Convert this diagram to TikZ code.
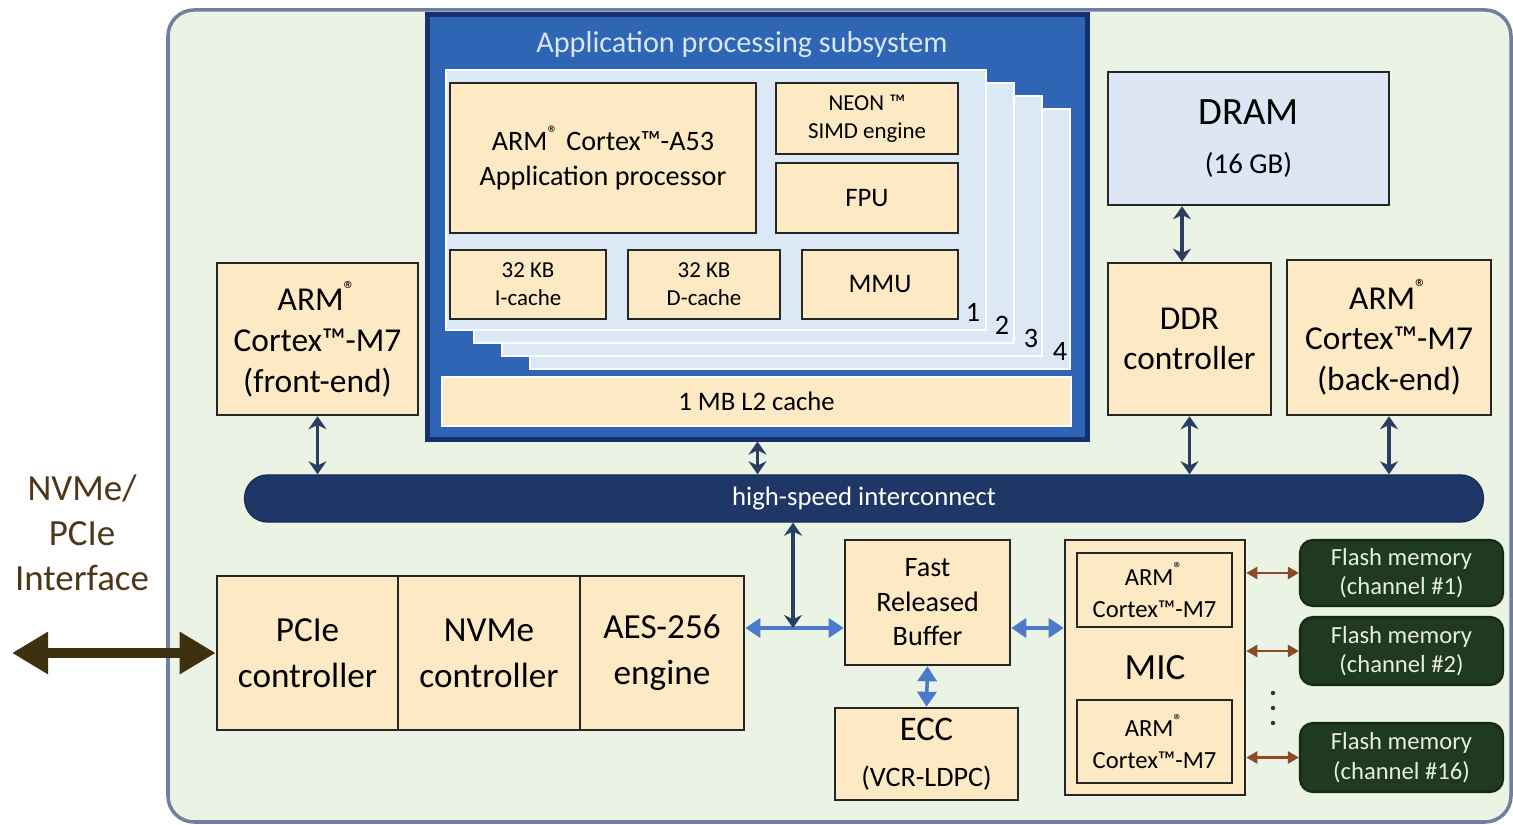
\documentclass[tikz,border=0pt]{standalone}
\usepackage{fontspec}
\setmainfont{Carlito}
\usetikzlibrary{arrows.meta}
\definecolor{panelgreen}{HTML}{EAF3E4}
\definecolor{panelline}{HTML}{6F7FA0}
\definecolor{apsblue}{HTML}{2F65B5}
\definecolor{apsline}{HTML}{183070}
\definecolor{apstext}{HTML}{D8E6F8}
\definecolor{cardblue}{HTML}{DDE8F7}
\definecolor{blocktan}{HTML}{FDE9C3}
\definecolor{dramblue}{HTML}{DCE6F5}
\definecolor{busnavy}{HTML}{1F3767}
\definecolor{linknavy}{HTML}{2A3D63}
\definecolor{linkblue}{HTML}{4A7AC9}
\definecolor{flashgreen}{HTML}{1F3A1E}
\definecolor{flashtext}{HTML}{E6EEE4}
\definecolor{linkbrown}{HTML}{8A4B25}
\definecolor{hostbrown}{HTML}{3E3110}
\definecolor{textbrown}{HTML}{4E3617}

\begin{document}
\begin{tikzpicture}[
		x=0.01cm, y=-0.01cm,
		blk/.style={draw=black!85, fill=blocktan, line width=0.7pt, inner sep=0pt, align=center},
		aps/.style={draw=apsline, fill=apsblue, line width=1.4pt, inner sep=0pt},
		card/.style={draw=white!90!cardblue, fill=cardblue, line width=0.8pt},
		flash/.style={draw=flashgreen!70!black, fill=flashgreen, rounded corners=1.3mm, line width=0.6pt, text=flashtext, align=center, inner sep=0pt, minimum width=20.3mm, font=\fontsize{7}{8.4}\selectfont},
		bus/.style={fill=busnavy, draw=busnavy!80!black, rounded corners=2.3mm, inner sep=0pt, text=white, font=\fontsize{7.6}{9}\selectfont},
		navyarr/.style={draw=linknavy, line width=1.1pt, {Stealth[length=1.3mm,width=1.8mm]}-{Stealth[length=1.3mm,width=1.8mm]}},
		bluearr/.style={draw=linkblue, line width=1pt, {Triangle[length=1.5mm,width=1.9mm]}-{Triangle[length=1.5mm,width=1.9mm]}},
		brownarr/.style={draw=linkbrown, line width=0.7pt, {Triangle[length=1.1mm,width=1.2mm]}-{Triangle[length=1.1mm,width=1.2mm]}},
		hostarr/.style={draw=hostbrown, line width=3.1pt, {Triangle[length=3.6mm,width=4mm]}-{Triangle[length=3.6mm,width=4mm]}},
		small/.style={font=\fontsize{6.5}{8}\selectfont},
		mid/.style={font=\fontsize{8}{9.8}\selectfont},
		large/.style={font=\fontsize{9.5}{11.6}\selectfont}
		]
		\fill[white] (0,0) rectangle (1513,825);
		\useasboundingbox (0,0) rectangle (1513,825);
		\draw[draw=panelline, fill=panelgreen, line width=1pt, rounded corners=2.6mm] (168,10) rectangle (1511,822);
		\node[aps, minimum width=65.9mm, minimum height=42.4mm] (aps) at (757.5,227) {};
		\node[text=apstext, font=\fontsize{8.6}{10}\selectfont] (apstitle) at (742,45) {Application processing subsystem};
		\foreach \k in {4,3,2,1} {
			\draw[card] ({446+28*(\k-1)},{70+13*(\k-1)}) rectangle +(540,260);
			\node[mid, inner sep=0pt] (core\k) at ({973+29*(\k-1)},{312+13*(\k-1)}) {\k};
		}
		\node[blk, mid, minimum width=30.6mm, minimum height=15mm] (a53) at (603,158) {ARM\textsuperscript{®} Cortex™-A53\\Application processor};
		\node[blk, small, minimum width=18.2mm, minimum height=7.1mm] (neon) at (867,118.5) {NEON ™\\SIMD engine};
		\node[blk, font=\fontsize{7.6}{9}\selectfont, minimum width=18.2mm, minimum height=7mm] (fpu) at (867,198) {FPU};
		\node[blk, small, minimum width=15.6mm, minimum height=6.9mm] (icache) at (528,284.5) {32 KB\\I-cache};
		\node[blk, small, minimum width=15.2mm, minimum height=6.9mm] (dcache) at (704,284.5) {32 KB\\D-cache};
		\node[blk, font=\fontsize{7.6}{9}\selectfont, minimum width=15.6mm, minimum height=6.9mm] (mmu) at (880,284.5) {MMU};
		\node[blk, draw=white!90!cardblue, font=\fontsize{7.6}{9}\selectfont, minimum width=62.9mm, minimum height=4.9mm] (l2) at (756.5,401.5) {1 MB L2 cache};
		\node[blk, large, minimum width=20.1mm, minimum height=15.2mm] (m7front) at (317.5,339) {ARM\textsuperscript{®}\\Cortex™-M7\\(front-end)};
		\node[blk, fill=dramblue, minimum width=28.1mm, minimum height=13.3mm] (dram) at (1248.5,138.5) {{\fontsize{11}{14}\selectfont DRAM}\\[2pt]{\fontsize{8.2}{10}\selectfont (16 GB)}};
		\node[blk, large, minimum width=16.3mm, minimum height=15.2mm] (ddr) at (1189.5,339) {DDR\\controller};
		\node[blk, large, minimum width=20.4mm, minimum height=15.5mm] (m7back) at (1389,337.5) {ARM\textsuperscript{®}\\Cortex™-M7\\(back-end)};
		\node[bus, minimum width=123.8mm, minimum height=4.7mm] (bus) at (864,498.5) {high-speed interconnect};
		\node[blk, font=\fontsize{10}{13}\selectfont, minimum width=18.1mm, minimum height=15.4mm] (pcie) at (307.5,653) {PCIe\\controller};
		\node[blk, font=\fontsize{10}{13}\selectfont, minimum width=18.2mm, minimum height=15.4mm] (nvme) at (489,653) {NVMe\\controller};
		\node[blk, font=\fontsize{10}{13}\selectfont, minimum width=16.4mm, minimum height=15.4mm] (aes) at (662,653) {AES-256\\engine};
		\node[blk, mid, minimum width=16.5mm, minimum height=12.5mm] (frb) at (927.5,602.5) {Fast\\Released\\Buffer};
		\node[blk, minimum width=18.3mm, minimum height=9.2mm] (ecc) at (926.5,754) {{\fontsize{9.8}{12}\selectfont ECC}\\[1pt]{\fontsize{8}{10}\selectfont (VCR-LDPC)}};
		\node[blk, minimum width=18mm, minimum height=25.5mm] (mic) at (1155,667.5) {};
		\node[font=\fontsize{10.5}{12}\selectfont] (miclabel) at (1155,668) {MIC};
		\node[blk, font=\fontsize{7}{9}\selectfont, minimum width=15.5mm, minimum height=7.4mm] (micA) at (1154.5,590) {ARM\textsuperscript{®}\\Cortex™-M7};
		\node[blk, font=\fontsize{7}{9}\selectfont, minimum width=15.5mm, minimum height=8.3mm] (micB) at (1154.5,741.5) {ARM\textsuperscript{®}\\Cortex™-M7};
		\node[flash, minimum height=6.6mm] (flash1) at (1401.5,573) {Flash memory\\(channel \#1)};
		\node[flash, minimum height=6.8mm] (flash2) at (1401.5,651) {Flash memory\\(channel \#2)};
		\node[flash, minimum height=6.9mm] (flash3) at (1401.5,757.5) {Flash memory\\(channel \#16)};
		\node[text=textbrown, align=center, font=\fontsize{10.5}{12.8}\selectfont] (host) at (82,533) {NVMe/\\PCIe\\Interface};
		\coordinate (hostend) at (12,653);
		\coordinate (hub) at (793,628);
		\draw[navyarr] (m7front.south) -- (m7front.south |- bus.north);
		\draw[navyarr] (aps.south) -- (aps.south |- bus.north);
		\draw[navyarr] ([xshift=-0.75mm]ddr.north) -- ([xshift=-0.75mm]ddr.north |- dram.south);
		\draw[navyarr] (ddr.south) -- (ddr.south |- bus.north);
		\draw[navyarr] (m7back.south) -- (m7back.south |- bus.north);
		\draw[bluearr] (aes.east |- hub) -- (frb.west |- hub);
		\draw[navyarr] (hub |- bus.south) -- (hub);
		\draw[bluearr] (frb.east |- hub) -- (mic.west |- hub);
		\draw[bluearr] (frb.south) -- (ecc.north);
		\draw[brownarr] (mic.east |- flash1) -- (flash1.west);
		\draw[brownarr] (mic.east |- flash2) -- (flash2.west);
		\draw[brownarr] (mic.east |- flash3) -- (flash3.west);
		\foreach \y in {693,708,723}
			\fill[black!80] (1273,\y) circle (0.22mm);
		\draw[hostarr] (hostend) -- (pcie.west);
	\end{tikzpicture}
\end{document}
